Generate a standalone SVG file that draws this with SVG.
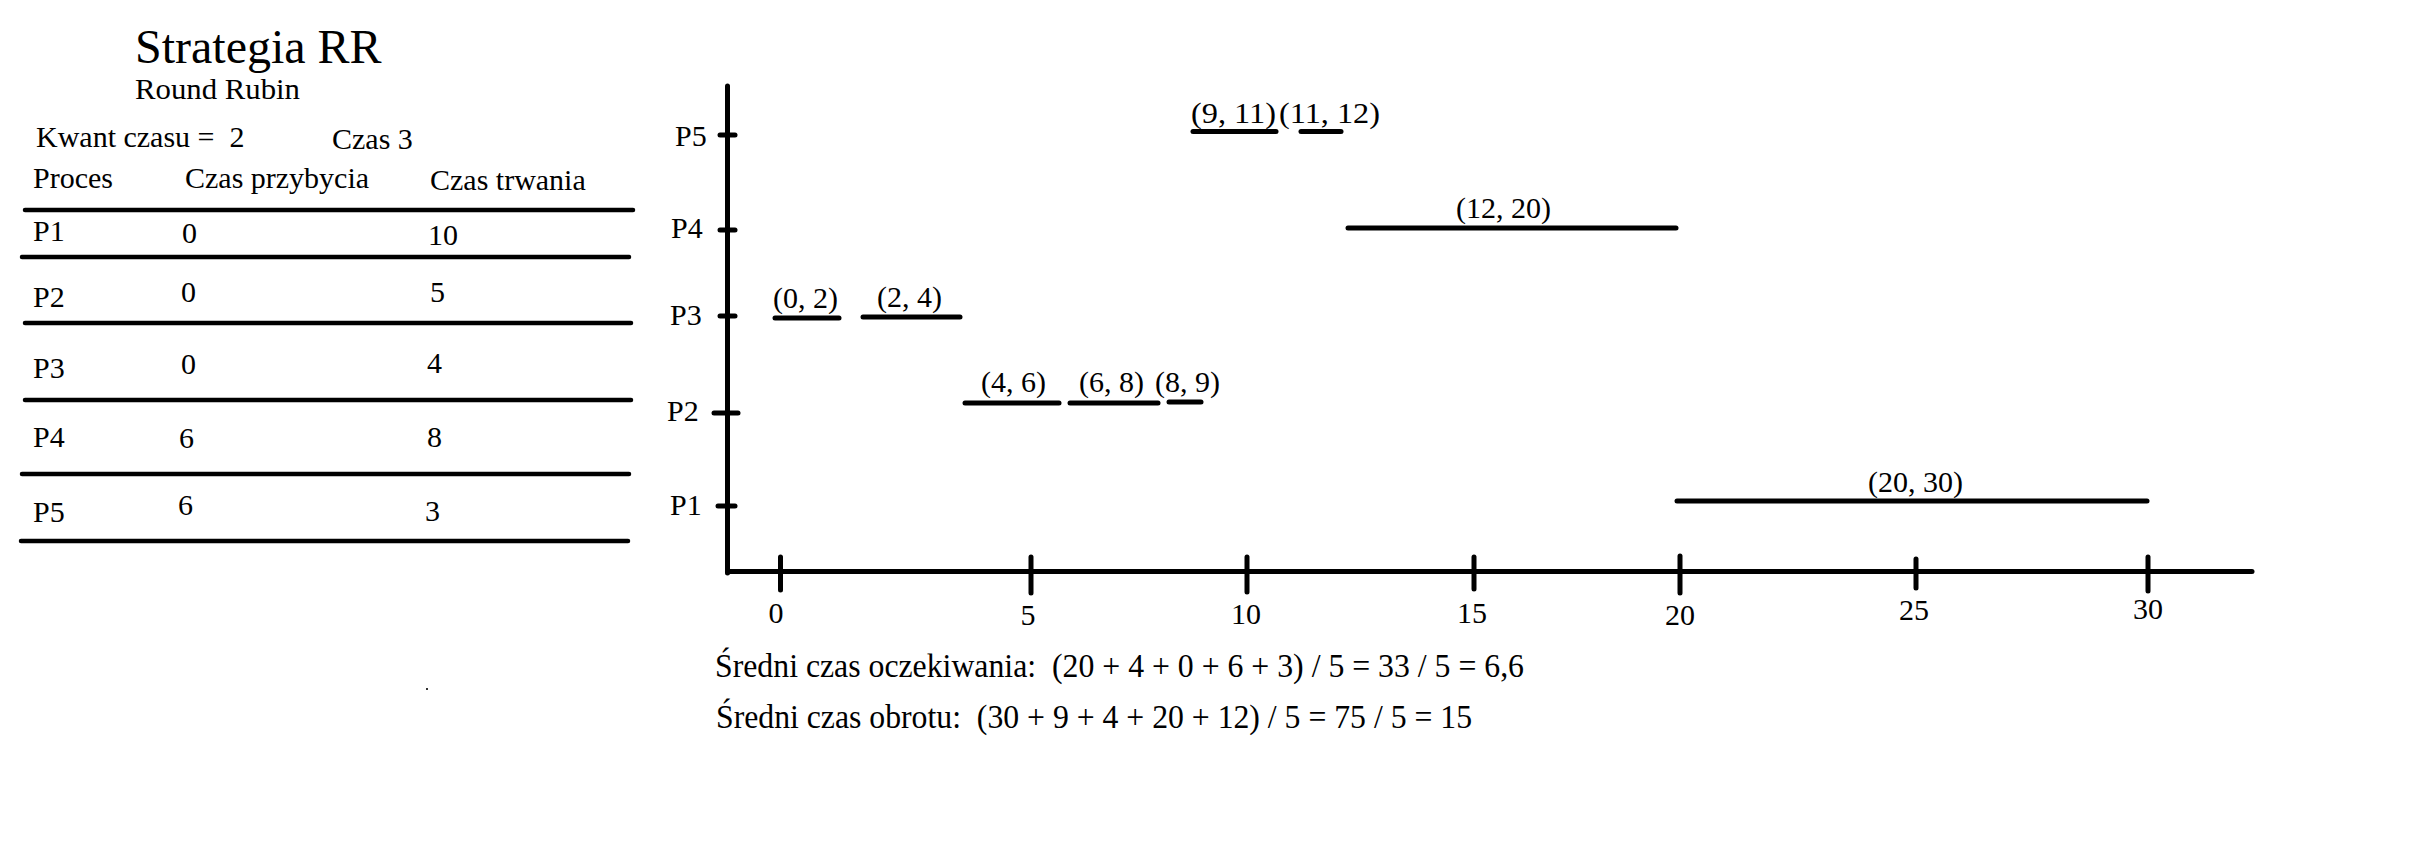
<svg xmlns="http://www.w3.org/2000/svg" width="2430" height="860" viewBox="0 0 2430 860">
<style>
text{font-family:"Liberation Serif","Times New Roman",serif;font-size:30px;fill:#000}
.title{font-size:48px}
.sum{font-size:33px;white-space:pre}
.mid{text-anchor:middle}
.rule{stroke:#000;stroke-width:4.5;stroke-linecap:round;fill:none}
.axis{stroke:#000;stroke-width:5;stroke-linecap:round;fill:none}
.tick{stroke:#000;stroke-width:5;stroke-linecap:round;fill:none}
.bar{stroke:#000;stroke-width:5;stroke-linecap:round;fill:none}
</style>
<rect width="2430" height="860" fill="#fff"/>
<g id="header">
<text class="title" x="135" y="63">Strategia RR</text>
<text x="135" y="99" textLength="165" lengthAdjust="spacingAndGlyphs">Round Rubin</text>
<text x="36" y="147" style="white-space:pre">Kwant czasu =  2</text>
<text x="332" y="149">Czas 3</text>
</g>
<g id="table">
<text x="33" y="188">Proces</text>
<text x="185" y="188">Czas przybycia</text>
<text x="430" y="190">Czas trwania</text>
<line class="rule" x1="25" y1="210" x2="633" y2="210"/>
<text x="33" y="241">P1</text><text x="182" y="243">0</text><text x="428" y="245">10</text>
<line class="rule" x1="22" y1="257" x2="629" y2="257"/>
<text x="33" y="307">P2</text><text x="181" y="302">0</text><text x="430" y="302">5</text>
<line class="rule" x1="25" y1="323" x2="631" y2="323"/>
<text x="33" y="378">P3</text><text x="181" y="374">0</text><text x="427" y="373">4</text>
<line class="rule" x1="25" y1="400" x2="631" y2="400"/>
<text x="33" y="447">P4</text><text x="179" y="448">6</text><text x="427" y="447">8</text>
<line class="rule" x1="22" y1="474" x2="629" y2="474"/>
<text x="33" y="522">P5</text><text x="178" y="515">6</text><text x="425" y="521">3</text>
<line class="rule" x1="21" y1="541" x2="628" y2="541"/>
</g>
<g id="axes">
<line class="axis" x1="727.5" y1="86" x2="727.5" y2="573"/>
<line class="axis" x1="727.5" y1="571.5" x2="2252" y2="571.5"/>
<line class="tick" x1="720" y1="135" x2="735" y2="135"/>
<line class="tick" x1="720" y1="230" x2="735" y2="230"/>
<line class="tick" x1="720" y1="316" x2="735" y2="316"/>
<line class="tick" x1="714" y1="413" x2="738" y2="413"/>
<line class="tick" x1="718" y1="506" x2="735" y2="506"/>
<text x="675" y="146">P5</text>
<text x="671" y="238">P4</text>
<text x="670" y="325">P3</text>
<text x="667" y="421">P2</text>
<text x="670" y="515">P1</text>
<line class="tick" x1="780.5" y1="557" x2="780.5" y2="590"/>
<line class="tick" x1="1031" y1="557" x2="1031" y2="593"/>
<line class="tick" x1="1247" y1="557" x2="1247" y2="592"/>
<line class="tick" x1="1474" y1="557" x2="1474" y2="589"/>
<line class="tick" x1="1680" y1="556" x2="1680" y2="593"/>
<line class="tick" x1="1916" y1="559" x2="1916" y2="588"/>
<line class="tick" x1="2148" y1="557" x2="2148" y2="591"/>
<text class="mid" x="776" y="623">0</text>
<text class="mid" x="1028" y="625">5</text>
<text class="mid" x="1246" y="624">10</text>
<text class="mid" x="1472" y="623">15</text>
<text class="mid" x="1680" y="625">20</text>
<text class="mid" x="1914" y="620">25</text>
<text class="mid" x="2148" y="619">30</text>
</g>
<g id="bars">
<line class="bar" x1="775" y1="318" x2="839" y2="318"/>
<line class="bar" x1="863" y1="317" x2="960" y2="317"/>
<line class="bar" x1="965" y1="403" x2="1059" y2="403"/>
<line class="bar" x1="1070" y1="403" x2="1158" y2="403"/>
<line class="bar" x1="1169" y1="402" x2="1201" y2="402"/>
<line class="bar" x1="1193" y1="131.5" x2="1276" y2="131.5"/>
<line class="bar" x1="1301" y1="131.5" x2="1341" y2="131.5"/>
<line class="bar" x1="1348" y1="228" x2="1676" y2="228"/>
<line class="bar" x1="1677" y1="501" x2="2147" y2="501"/>
<text x="773" y="308">(0, 2)</text>
<text x="877" y="307">(2, 4)</text>
<text x="981" y="392">(4, 6)</text>
<text x="1079" y="392">(6, 8)</text>
<text x="1155" y="392">(8, 9)</text>
<text x="1191" y="123" textLength="85" lengthAdjust="spacingAndGlyphs">(9, 11)</text>
<text x="1279" y="123" textLength="101" lengthAdjust="spacingAndGlyphs">(11, 12)</text>
<text x="1456" y="218">(12, 20)</text>
<text x="1868" y="492">(20, 30)</text>
</g>
<g id="summary">
<text class="sum" x="715" y="677" textLength="809" lengthAdjust="spacingAndGlyphs">Średni czas oczekiwania:  (20 + 4 + 0 + 6 + 3) / 5 = 33 / 5 = 6,6</text>
<text class="sum" x="716" y="728" textLength="756" lengthAdjust="spacingAndGlyphs">Średni czas obrotu:  (30 + 9 + 4 + 20 + 12) / 5 = 75 / 5 = 15</text>
</g>
<rect x="426" y="688" width="2" height="2" fill="#333"/>
</svg>
